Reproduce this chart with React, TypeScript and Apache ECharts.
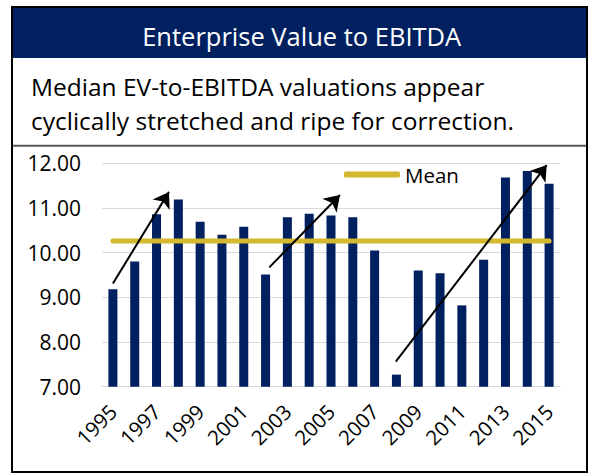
import React, { useEffect, useRef } from "react";
import * as echarts from "echarts";

const years = [
  "1995", "1996", "1997", "1998", "1999", "2000", "2001", "2002", "2003", "2004", "2005",
  "2006", "2007", "2008", "2009", "2010", "2011", "2012", "2013", "2014", "2015",
];
const evEbitda = [
  9.18, 9.8, 10.86, 11.19, 10.69, 10.4, 10.58, 9.51, 10.79, 10.87, 10.83,
  10.79, 10.05, 7.27, 9.6, 9.54, 8.82, 9.84, 11.68, 11.83, 11.54,
];
const meanValues = [
  10.26, 10.26, 10.26, 10.26, 10.26, 10.26, 10.26, 10.26, 10.26, 10.26, 10.26,
  10.26, 10.26, 10.26, 10.26, 10.26, 10.26, 10.26, 10.26, 10.26, 10.26,
];
const yMin = 7;
const yMax = 12;
const yInterval = 1;
// arrows: [category position, value] start -> end
const arrowLines = [
  [[0.0, 9.31], [2.57, 11.36]],
  [[7.17, 9.67], [10.41, 11.29]],
  [[12.97, 7.56], [19.89, 11.96]],
];

const titleText = "Enterprise Value to EBITDA";
const subtitleLines = [
  "Median EV-to-EBITDA valuations appear",
  "cyclically stretched and ripe for correction.",
];

const NAVY = "#002060";
const GOLD = "#D4B92F";
const FONT = "'Open Sans', sans-serif";

export default function App() {
  const ref = useRef<HTMLDivElement>(null);
  useEffect(() => {
    if (!ref.current) return;
    const chart = echarts.init(ref.current, undefined, { renderer: "svg" });
    chart.setOption({
      animation: false,
      backgroundColor: "#ffffff",
      graphic: [
        { type: "rect", z: 0, shape: { x: 12, y: 7, width: 575, height: 51 }, style: { fill: NAVY } },
        {
          type: "text",
          z: 1,
          x: 301.7,
          y: 36,
          style: {
            text: titleText,
            fill: "#ffffff",
            fontSize: 25.5,
            fontFamily: FONT,
            align: "center",
            verticalAlign: "middle",
          },
        },
        {
          type: "text",
          x: 31,
          y: 86.5,
          style: { text: subtitleLines[0], fill: "#000", fontSize: 24.5, fontFamily: FONT, align: "left", verticalAlign: "middle" },
        },
        {
          type: "text",
          x: 31,
          y: 120,
          style: { text: subtitleLines[1], fill: "#000", fontSize: 24.5, fontFamily: FONT, align: "left", verticalAlign: "middle" },
        },
        {
          type: "line",
          shape: { x1: 12, y1: 145.7, x2: 587, y2: 145.7 },
          style: { stroke: "#595959", lineWidth: 2 },
        },
        {
          type: "rect",
          z: 10,
          shape: { x: 12, y: 7, width: 575, height: 465 },
          style: { fill: "none", stroke: "#000", lineWidth: 2 },
        },
      ],
      legend: {
        data: ["Mean"],
        icon: "roundRect",
        itemWidth: 56,
        itemHeight: 6,
        left: 339,
        top: 159,
        textStyle: { fontSize: 20.5, fontFamily: FONT, color: "#000" },
      },
      grid: { left: 102, right: 29, top: 163.3, bottom: 87.3, containLabel: false },
      xAxis: [
        {
          type: "category",
          data: years,
          boundaryGap: true,
          axisTick: { show: false },
          axisLine: { lineStyle: { color: "#D9D9D9", width: 1 } },
          axisLabel: {
            interval: 1,
            rotate: 45,
            margin: 21,
            fontSize: 20.5,
            fontFamily: FONT,
            color: "#000",
          },
        },
        { type: "value", min: -0.5, max: 20.5, show: false },
      ],
      yAxis: {
        type: "value",
        min: yMin,
        max: yMax,
        interval: yInterval,
        axisLine: { show: false },
        axisTick: { show: false },
        splitLine: { lineStyle: { color: "#D9D9D9", width: 1 } },
        axisLabel: {
          margin: 21,
          fontSize: 21,
          fontFamily: FONT,
          color: "#000",
          formatter: (v: number) => v.toFixed(2),
        },
      },
      series: [
        {
          name: "EV/EBITDA",
          type: "bar",
          data: evEbitda,
          barWidth: 9,
          itemStyle: { color: NAVY },
        },
        {
          name: "Mean",
          type: "line",
          data: meanValues,
          symbol: "none",
          showSymbol: false,
          itemStyle: { color: GOLD },
          lineStyle: { color: GOLD, width: 5, cap: "round" },
          z: 3,
        },
        {
          name: "Arrows",
          type: "lines",
          coordinateSystem: "cartesian2d",
          xAxisIndex: 1,
          yAxisIndex: 0,
          symbol: ["none", "arrow"],
          symbolSize: 15,
          lineStyle: { color: "#000", width: 2, opacity: 1, curveness: 0 },
          data: arrowLines.map((c) => ({ coords: c })),
          z: 4,
        },
      ],
    });
    return () => chart.dispose();
  }, []);
  return (
    <div
      ref={ref}
      style={{ position: "absolute", left: 0, top: 0, width: 589, height: 474 }}
    />
  );
}
